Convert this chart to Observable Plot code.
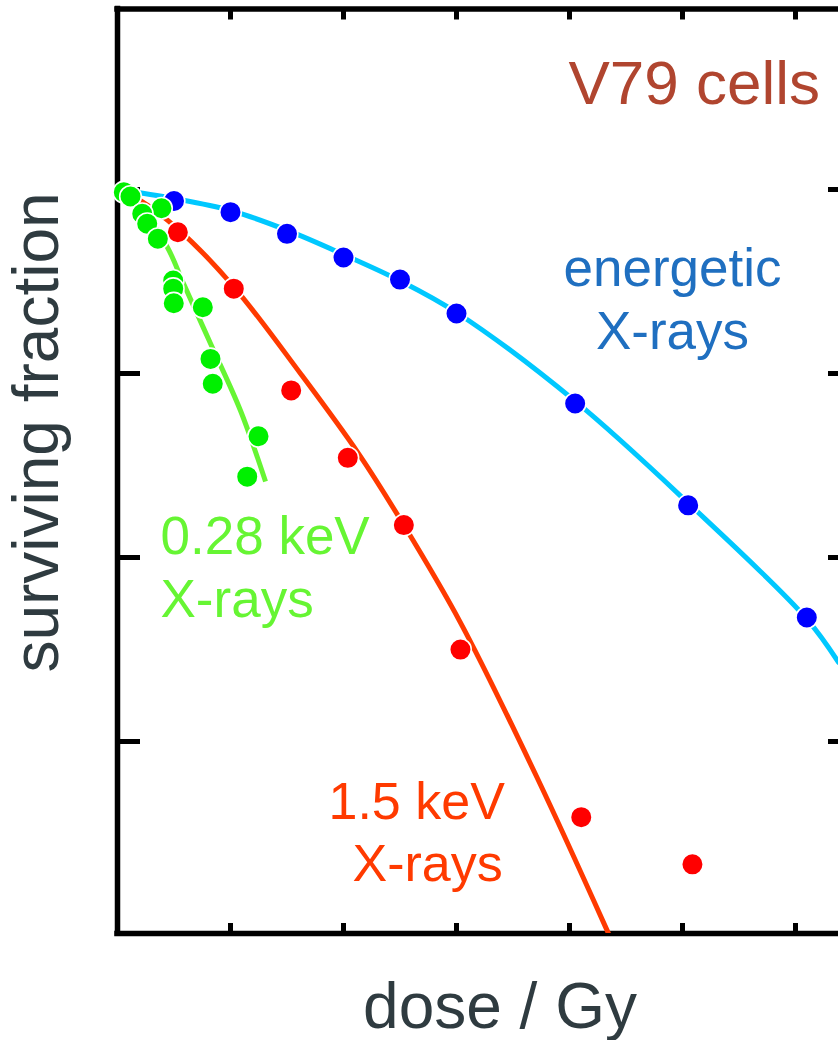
<!DOCTYPE html>
<html>
<head>
<meta charset="utf-8">
<script src="https://cdn.jsdelivr.net/npm/d3@7"></script>
<script src="https://cdn.jsdelivr.net/npm/@observablehq/plot@0.6"></script>
<style>
  html, body { margin: 0; padding: 0; background: #fff; }
  svg { display: block; }
</style>
</head>
<body>
<div id="chart"></div>
<script>
// ---- data (dose in Gy, surviving fraction) ----
const energeticDose = [0.5, 1.0, 1.5, 2.0, 2.5, 3.0, 4.05, 5.05, 6.1];
const energeticSF   = [0.866, 0.753, 0.574, 0.427, 0.324, 0.212, 0.0687, 0.0192, 0.00472];

const kev15Dose = [0.534, 1.029, 1.537, 2.038, 2.534, 3.035, 4.104, 5.088];
const kev15SF   = [0.586, 0.289, 0.0809, 0.0348, 0.0150, 0.00316, 0.000388, 0.000215];

const kev028Dose = [0.056, 0.115, 0.389, 0.219, 0.263, 0.357, 0.493, 0.493, 0.498, 0.755, 0.823, 0.843, 1.248, 1.148];
const kev028SF   = [0.967, 0.916, 0.791, 0.738, 0.651, 0.540, 0.320, 0.289, 0.241, 0.229, 0.120, 0.0879, 0.0456, 0.0275];

// fitted curves
const energeticFitDose = [0, 0.496, 1.0, 1.504, 2.0, 2.496, 3.0, 4.053, 5.053, 6.097, 6.381];
const energeticFitSF   = [1, 0.894, 0.769, 0.599, 0.443, 0.320, 0.2146, 0.0705, 0.0197, 0.00466, 0.00269];

const kev15FitDose = [0, 0.2035, 0.540, 1.027, 1.619, 2.133, 2.531, 3.035, 3.717, 4.345, 4.451];
const kev15FitSF   = [1, 0.871, 0.606, 0.297, 0.1, 0.0367, 0.0151, 0.00443, 0.000629, 0.0000905, 0.0000645];

const kev028FitDose = [0, 0.221, 0.4425, 0.584, 0.823, 1.088, 1.310];
const kev028FitSF   = [1, 0.769, 0.484, 0.308, 0.1456, 0.0629, 0.0259];

const xTicks = [1, 2, 3, 4, 5, 6];
const yTicks = [1, 0.1, 0.01, 0.001];

const xTitle = "dose / Gy";
const yTitle = "surviving fraction";
const labelCells = "V79 cells";
const labelEnergetic = ["energetic", "X-rays"];
const label028 = ["0.28 keV", "X-rays"];
const label15 = ["1.5 keV", "X-rays"];

// ---- build tables ----
const zip = (xs, ys) => xs.map((x, i) => ({dose: x, sf: ys[i]}));
const energetic = zip(energeticDose, energeticSF);
const kev15 = zip(kev15Dose, kev15SF);
const kev028 = zip(kev028Dose, kev028SF);
const energeticFit = zip(energeticFitDose, energeticFitSF);
const kev15Fit = zip(kev15FitDose, kev15FitSF);
const kev028Fit = zip(kev028FitDose, kev028FitSF);

const W = 838, H = 1040;
const mL = 117, mT = 8.5, mB = 107;
const frameW = W - mL, frameH = H - mT - mB;
const yTop = 9.571, yBot = 9.047e-5;

const font = "'Liberation Sans', Arial, Helvetica, sans-serif";
const dark = "#2f3b40";
const dotStyle = {r: 10.8, stroke: "white", strokeWidth: 1.6};

const lbl = (arr, i, x, y, size, fill, anchor = "start") =>
  Plot.text(arr, {frameAnchor: "top-left", dx: x - mL, dy: y - mT, text: d => d,
    filter: (d, j) => j === i, textAnchor: anchor, lineAnchor: "bottom", fontSize: size, fill});

const chart = Plot.plot({
  width: W,
  height: H,
  marginLeft: mL,
  marginRight: 0,
  marginTop: mT,
  marginBottom: mB,
  x: {domain: [0, 6.5], range: [mL, mL + 113 * 6.5], axis: null},
  y: {type: "log", domain: [yTop, yBot], range: [mT, H - mB], axis: null},
  style: {fontFamily: font, background: "white", overflow: "visible"},
  marks: [
    // frame (left, top, bottom)
    Plot.ruleX([0], {stroke: "black", strokeWidth: 5.5, strokeLinecap: "square"}),
    Plot.ruleY([yTop], {stroke: "black", strokeWidth: 5.5, strokeLinecap: "square"}),
    Plot.ruleY([yBot], {stroke: "black", strokeWidth: 5.5, strokeLinecap: "square"}),
    // inward ticks
    Plot.tickX(xTicks, {x: d => d, stroke: "black", strokeWidth: 5, insetTop: frameH - 10}),
    Plot.tickX(xTicks, {x: d => d, stroke: "black", strokeWidth: 5, insetBottom: frameH - 11}),
    Plot.tickY(yTicks, {y: d => d, stroke: "black", strokeWidth: 5, insetRight: frameW - 23}),
    Plot.tickY(yTicks, {y: d => d, stroke: "black", strokeWidth: 5, insetLeft: frameW - 10}),
    // curves
    Plot.line(energeticFit, {x: "dose", y: "sf", stroke: "#00c8ff", strokeWidth: 5, curve: "catmull-rom", clip: true}),
    Plot.line(kev15Fit, {x: "dose", y: "sf", stroke: "#ff3a00", strokeWidth: 5, curve: "catmull-rom", clip: true}),
    Plot.line(kev028Fit, {x: "dose", y: "sf", stroke: "#66f533", strokeWidth: 5, curve: "catmull-rom", strokeLinecap: "butt", clip: true}),
    // points
    Plot.dot(energetic, {x: "dose", y: "sf", fill: "#0000ff", ...dotStyle}),
    Plot.dot(kev15, {x: "dose", y: "sf", fill: "#ff0000", ...dotStyle}),
    Plot.dot(kev028, {x: "dose", y: "sf", fill: "#00f000", ...dotStyle}),
    // axis titles
    Plot.text([xTitle], {frameAnchor: "top-left", dx: 499.5 - mL, dy: 1027 - mT, text: d => d, textAnchor: "middle", lineAnchor: "bottom", fontSize: 64, fill: dark}),
    Plot.text([yTitle], {frameAnchor: "top-left", dx: 57 - mL, dy: 432 - mT, text: d => d, rotate: -90, textAnchor: "middle", lineAnchor: "bottom", fontSize: 64, fill: dark}),
    // annotations
    Plot.text([labelCells], {frameAnchor: "top-left", dx: 568 - mL, dy: 103 - mT, text: d => d, textAnchor: "start", lineAnchor: "bottom", fontSize: 62, fill: "#b0452f"}),
    lbl(labelEnergetic, 0, 672, 285, 53, "#1f6fc0", "middle"),
    lbl(labelEnergetic, 1, 672, 348, 53, "#1f6fc0", "middle"),
    lbl(label028, 0, 160, 553, 53, "#66f533"),
    lbl(label028, 1, 160, 616, 53, "#66f533"),
    lbl(label15, 0, 328, 818, 52, "#ff3a00"),
    lbl(label15, 1, 352, 880, 52, "#ff3a00")
  ]
});
document.getElementById("chart").appendChild(chart);
</script>
</body>
</html>
